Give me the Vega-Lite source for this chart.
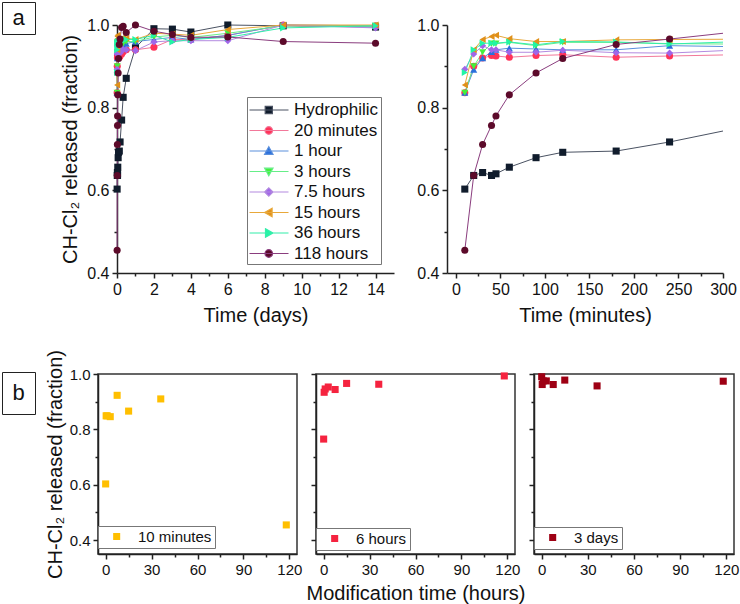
{
 "$schema": "https://vega.github.io/schema/vega-lite/v6.json",
 "background": "white",
 "padding": {"left": 1, "top": 1, "right": 0, "bottom": 0},
 "config": {
  "font": "Liberation Sans",
  "view": {"stroke": null},
  "axis": {"grid": false, "domainColor": "#222", "domainWidth": 1.5, "tickColor": "#222", "tickWidth": 1.5, "labelFont": "Liberation Sans", "labelFontSize": 16, "labelColor": "#111", "labelPadding": 3, "labelOverlap": false, "labelFlush": false, "titleFont": "Liberation Sans", "titleFontSize": 20, "titleFontWeight": "normal", "titleColor": "#111"},
  "legend": {"labelFont": "Liberation Sans", "labelColor": "#111"}
 },
 "datasets": {
  "top": [
   {"s":"Hydrophilic","t":10,"v":0.603},{"s":"Hydrophilic","t":20,"v":0.636},{"s":"Hydrophilic","t":30,"v":0.643},{"s":"Hydrophilic","t":40,"v":0.636},{"s":"Hydrophilic","t":45,"v":0.640},{"s":"Hydrophilic","t":60,"v":0.656},{"s":"Hydrophilic","t":90,"v":0.679},{"s":"Hydrophilic","t":120,"v":0.692},{"s":"Hydrophilic","t":180,"v":0.695},{"s":"Hydrophilic","t":240,"v":0.717},{"s":"Hydrophilic","t":360,"v":0.770},{"s":"Hydrophilic","t":480,"v":0.825},{"s":"Hydrophilic","t":720,"v":0.871},{"s":"Hydrophilic","t":1440,"v":0.945},{"s":"Hydrophilic","t":2880,"v":0.991},{"s":"Hydrophilic","t":4320,"v":0.990},{"s":"Hydrophilic","t":5760,"v":0.983},{"s":"Hydrophilic","t":8640,"v":1.000},{"s":"Hydrophilic","t":12960,"v":0.998},{"s":"Hydrophilic","t":20160,"v":0.995},
   {"s":"20 minutes","t":10,"v":0.836},{"s":"20 minutes","t":20,"v":0.900},{"s":"20 minutes","t":30,"v":0.920},{"s":"20 minutes","t":40,"v":0.926},{"s":"20 minutes","t":45,"v":0.925},{"s":"20 minutes","t":60,"v":0.922},{"s":"20 minutes","t":90,"v":0.926},{"s":"20 minutes","t":120,"v":0.928},{"s":"20 minutes","t":180,"v":0.922},{"s":"20 minutes","t":240,"v":0.925},{"s":"20 minutes","t":360,"v":0.930},{"s":"20 minutes","t":480,"v":0.935},{"s":"20 minutes","t":720,"v":0.940},{"s":"20 minutes","t":1440,"v":0.940},{"s":"20 minutes","t":2880,"v":0.946},{"s":"20 minutes","t":4320,"v":0.965},{"s":"20 minutes","t":5760,"v":0.965},{"s":"20 minutes","t":8640,"v":0.975},{"s":"20 minutes","t":12960,"v":1.000},{"s":"20 minutes","t":20160,"v":0.998},
   {"s":"1 hour","t":10,"v":0.836},{"s":"1 hour","t":20,"v":0.892},{"s":"1 hour","t":30,"v":0.920},{"s":"1 hour","t":40,"v":0.935},{"s":"1 hour","t":45,"v":0.940},{"s":"1 hour","t":60,"v":0.944},{"s":"1 hour","t":90,"v":0.942},{"s":"1 hour","t":120,"v":0.940},{"s":"1 hour","t":180,"v":0.940},{"s":"1 hour","t":240,"v":0.950},{"s":"1 hour","t":360,"v":0.946},{"s":"1 hour","t":480,"v":0.950},{"s":"1 hour","t":720,"v":0.955},{"s":"1 hour","t":1440,"v":0.960},{"s":"1 hour","t":2880,"v":0.965},{"s":"1 hour","t":4320,"v":0.970},{"s":"1 hour","t":5760,"v":0.965},{"s":"1 hour","t":8640,"v":0.975},{"s":"1 hour","t":12960,"v":1.000},{"s":"1 hour","t":20160,"v":0.998},
   {"s":"3 hours","t":10,"v":0.836},{"s":"3 hours","t":20,"v":0.900},{"s":"3 hours","t":30,"v":0.934},{"s":"3 hours","t":40,"v":0.955},{"s":"3 hours","t":45,"v":0.955},{"s":"3 hours","t":60,"v":0.958},{"s":"3 hours","t":90,"v":0.950},{"s":"3 hours","t":120,"v":0.958},{"s":"3 hours","t":180,"v":0.958},{"s":"3 hours","t":240,"v":0.955},{"s":"3 hours","t":360,"v":0.953},{"s":"3 hours","t":480,"v":0.955},{"s":"3 hours","t":720,"v":0.960},{"s":"3 hours","t":1440,"v":0.960},{"s":"3 hours","t":2880,"v":0.971},{"s":"3 hours","t":4320,"v":0.975},{"s":"3 hours","t":5760,"v":0.970},{"s":"3 hours","t":8640,"v":0.980},{"s":"3 hours","t":12960,"v":0.998},{"s":"3 hours","t":20160,"v":0.998},
   {"s":"7.5 hours","t":10,"v":0.893},{"s":"7.5 hours","t":20,"v":0.930},{"s":"7.5 hours","t":30,"v":0.950},{"s":"7.5 hours","t":40,"v":0.940},{"s":"7.5 hours","t":45,"v":0.940},{"s":"7.5 hours","t":60,"v":0.934},{"s":"7.5 hours","t":90,"v":0.934},{"s":"7.5 hours","t":120,"v":0.939},{"s":"7.5 hours","t":180,"v":0.933},{"s":"7.5 hours","t":240,"v":0.932},{"s":"7.5 hours","t":360,"v":0.944},{"s":"7.5 hours","t":480,"v":0.940},{"s":"7.5 hours","t":720,"v":0.940},{"s":"7.5 hours","t":1440,"v":0.938},{"s":"7.5 hours","t":2880,"v":0.959},{"s":"7.5 hours","t":4320,"v":0.962},{"s":"7.5 hours","t":5760,"v":0.962},{"s":"7.5 hours","t":8640,"v":0.962},{"s":"7.5 hours","t":12960,"v":1.000},{"s":"7.5 hours","t":20160,"v":0.993},
   {"s":"15 hours","t":10,"v":0.855},{"s":"15 hours","t":20,"v":0.940},{"s":"15 hours","t":30,"v":0.965},{"s":"15 hours","t":40,"v":0.972},{"s":"15 hours","t":45,"v":0.975},{"s":"15 hours","t":60,"v":0.967},{"s":"15 hours","t":90,"v":0.960},{"s":"15 hours","t":120,"v":0.960},{"s":"15 hours","t":180,"v":0.964},{"s":"15 hours","t":240,"v":0.965},{"s":"15 hours","t":360,"v":0.966},{"s":"15 hours","t":480,"v":0.970},{"s":"15 hours","t":720,"v":0.968},{"s":"15 hours","t":1440,"v":0.965},{"s":"15 hours","t":2880,"v":0.980},{"s":"15 hours","t":4320,"v":0.978},{"s":"15 hours","t":5760,"v":0.975},{"s":"15 hours","t":8640,"v":0.989},{"s":"15 hours","t":12960,"v":1.000},{"s":"15 hours","t":20160,"v":1.000},
   {"s":"36 hours","t":10,"v":0.885},{"s":"36 hours","t":20,"v":0.940},{"s":"36 hours","t":30,"v":0.956},{"s":"36 hours","t":40,"v":0.956},{"s":"36 hours","t":45,"v":0.956},{"s":"36 hours","t":60,"v":0.959},{"s":"36 hours","t":90,"v":0.952},{"s":"36 hours","t":120,"v":0.960},{"s":"36 hours","t":180,"v":0.959},{"s":"36 hours","t":240,"v":0.954},{"s":"36 hours","t":360,"v":0.963},{"s":"36 hours","t":480,"v":0.962},{"s":"36 hours","t":720,"v":0.965},{"s":"36 hours","t":1440,"v":0.965},{"s":"36 hours","t":2880,"v":0.975},{"s":"36 hours","t":4320,"v":0.959},{"s":"36 hours","t":5760,"v":0.965},{"s":"36 hours","t":8640,"v":0.970},{"s":"36 hours","t":12960,"v":0.993},{"s":"36 hours","t":20160,"v":0.998},
   {"s":"118 hours","t":10,"v":0.455},{"s":"118 hours","t":20,"v":0.636},{"s":"118 hours","t":30,"v":0.711},{"s":"118 hours","t":40,"v":0.757},{"s":"118 hours","t":45,"v":0.780},{"s":"118 hours","t":60,"v":0.831},{"s":"118 hours","t":90,"v":0.884},{"s":"118 hours","t":120,"v":0.919},{"s":"118 hours","t":180,"v":0.953},{"s":"118 hours","t":240,"v":0.966},{"s":"118 hours","t":360,"v":0.994},{"s":"118 hours","t":480,"v":0.997},{"s":"118 hours","t":720,"v":0.982},{"s":"118 hours","t":1440,"v":1.000},{"s":"118 hours","t":2880,"v":0.985},{"s":"118 hours","t":4320,"v":0.977},{"s":"118 hours","t":5760,"v":0.970},{"s":"118 hours","t":8640,"v":0.971},{"s":"118 hours","t":12960,"v":0.960},{"s":"118 hours","t":20160,"v":0.956}
  ],
  "bottom": [
   {"panel":"10 minutes","h":0,"v":0.603},{"panel":"10 minutes","h":0.33,"v":0.849},{"panel":"10 minutes","h":1,"v":0.849},{"panel":"10 minutes","h":3,"v":0.846},{"panel":"10 minutes","h":7.5,"v":0.923},{"panel":"10 minutes","h":15,"v":0.866},{"panel":"10 minutes","h":36,"v":0.910},{"panel":"10 minutes","h":118,"v":0.455},
   {"panel":"6 hours","h":0,"v":0.765},{"panel":"6 hours","h":0.33,"v":0.934},{"panel":"6 hours","h":1,"v":0.946},{"panel":"6 hours","h":3,"v":0.953},{"panel":"6 hours","h":7.5,"v":0.944},{"panel":"6 hours","h":15,"v":0.966},{"panel":"6 hours","h":36,"v":0.963},{"panel":"6 hours","h":118,"v":0.993},
   {"panel":"3 days","h":0,"v":0.990},{"panel":"3 days","h":0.33,"v":0.962},{"panel":"3 days","h":1,"v":0.975},{"panel":"3 days","h":3,"v":0.975},{"panel":"3 days","h":7.5,"v":0.962},{"panel":"3 days","h":15,"v":0.978},{"panel":"3 days","h":36,"v":0.957},{"panel":"3 days","h":118,"v":0.974}
  ]
 },
 "vconcat": [
  {
   "hconcat": [
    {"width": 33, "height": 32, "view": {"stroke": "#222", "strokeWidth": 1}, "data": {"values": [{"label": "a"}]}, "mark": {"type": "text", "fontSize": 22, "font": "Liberation Sans", "color": "#111"}, "encoding": {"text": {"field": "label"}}},
    {
     "vconcat": [
      {"width": 10, "height": 1, "data": {"values": []}, "mark": "point"},
      {
       "hconcat": [
        {
         "width": 277, "height": 248,
         "data": {"name": "top"},
         "encoding": {
          "x": {"field": "t", "type": "quantitative", "scale": {"domain": [0, 21600], "nice": false, "zero": false},
                "axis": {"title": "Time (days)", "titlePadding": 8, "values": [0,1440,2880,4320,5760,7200,8640,10080,11520,12960,14400,15840,17280,18720,20160],
                         "labelExpr": "(datum.value/1440) % 2 === 1 ? '' : format(datum.value/1440, 'd')",
                         "tickSize": {"condition": {"test": "(datum.value/1440) % 2 === 1", "value": 3}, "value": 5}}},
          "y": {"field": "v", "type": "quantitative", "scale": {"domain": [0.4, 1.0], "nice": false, "zero": false},
                "axis": {"title": "CH-Cl₂ released (fraction)", "titlePadding": 6, "values": [0.4,0.5,0.6,0.7,0.8,0.9,1.0],
                         "labelExpr": "round(datum.value*10) % 2 === 1 ? '' : format(datum.value, '.1f')",
                         "tickSize": {"condition": {"test": "round(datum.value*10) % 2 === 1", "value": 3}, "value": 5}}}
         },
         "layer": [
          {"mark": {"type": "line", "strokeWidth": 1},
           "encoding": {"stroke": {"field": "s", "type": "nominal", "legend": null,
             "scale": {"domain": ["Hydrophilic","20 minutes","1 hour","3 hours","7.5 hours","15 hours","36 hours","118 hours"],
                       "range": ["#4a5262","#f2789a","#5a8fdc","#66ee88","#b38ae0","#e8a83a","#33eeaa","#8a3d7e"]}}}},
          {"mark": {"type": "point", "filled": true, "size": 50, "opacity": 1, "strokeWidth": 0},
           "encoding": {
            "shape": {"field": "s", "type": "nominal", "legend": null,
              "scale": {"domain": ["Hydrophilic","20 minutes","1 hour","3 hours","7.5 hours","15 hours","36 hours","118 hours"],
                        "range": ["square","circle","triangle-up","triangle-down","diamond","triangle-left","triangle-right","circle"]}},
            "fill": {"field": "s", "type": "nominal", "legend": null,
              "scale": {"domain": ["Hydrophilic","20 minutes","1 hour","3 hours","7.5 hours","15 hours","36 hours","118 hours"],
                        "range": ["#101c2c","#ff3358","#2a6fdc","#44f03a","#a066e8","#e0901a","#22f5a5","#5c0a2a"]}}
           }},
          {"transform": [{"filter": "false"}],
           "mark": {"type": "point", "filled": true, "size": 400, "opacity": 1, "strokeWidth": 1.2},
           "encoding": {
            "shape": {"field": "s", "type": "nominal",
              "scale": {"domain": ["Hydrophilic","20 minutes","1 hour","3 hours","7.5 hours","15 hours","36 hours","118 hours"],
                        "range": ["M-1.05,0H2.85M0.52,-0.36H1.24V0.36H0.52Z","M-1.05,0H2.85M0.5,0A0.38,0.38 0 1,0 1.26,0A0.38,0.38 0 1,0 0.5,0Z","M-1.05,0H2.85M0.88,-0.42L1.3,0.33L0.46,0.33Z","M-1.05,0H2.85M0.88,0.42L1.3,-0.33L0.46,-0.33Z","M-1.05,0H2.85M0.88,-0.42L1.3,0L0.88,0.42L0.46,0Z","M-1.05,0H2.85M0.46,0L1.21,-0.42L1.21,0.42Z","M-1.05,0H2.85M1.3,0L0.55,-0.42L0.55,0.42Z","M-1.05,0H2.85M0.5,0A0.38,0.38 0 1,0 1.26,0A0.38,0.38 0 1,0 0.5,0Z"]},
              "legend": {"orient": "none", "legendX": 130, "legendY": 72, "title": null, "padding": 2, "rowPadding": 1.5,
                "symbolSize": 400, "labelFontSize": 17, "labelOffset": 23, "strokeColor": "#777", "fillColor": "white", "symbolStrokeWidth": 1.2}},
            "fill": {"field": "s", "type": "nominal",
              "scale": {"domain": ["Hydrophilic","20 minutes","1 hour","3 hours","7.5 hours","15 hours","36 hours","118 hours"],
                        "range": ["#101c2c","#ff3358","#2a6fdc","#44f03a","#a066e8","#e0901a","#22f5a5","#5c0a2a"]},
              "legend": {"orient": "none", "legendX": 130, "legendY": 72, "title": null, "padding": 2, "rowPadding": 1.5,
                "symbolSize": 400, "labelFontSize": 17, "labelOffset": 23, "strokeColor": "#777", "fillColor": "white", "symbolStrokeWidth": 1.2}},
            "stroke": {"field": "s", "type": "nominal",
              "scale": {"domain": ["Hydrophilic","20 minutes","1 hour","3 hours","7.5 hours","15 hours","36 hours","118 hours"],
                        "range": ["#4a5262","#f2789a","#5a8fdc","#66ee88","#b38ae0","#e8a83a","#33eeaa","#8a3d7e"]},
              "legend": {"orient": "none", "legendX": 130, "legendY": 72, "title": null, "padding": 2, "rowPadding": 1.5,
                "symbolSize": 400, "labelFontSize": 17, "labelOffset": 23, "strokeColor": "#777", "fillColor": "white", "symbolStrokeWidth": 1.2}}
           }}
         ],
         "resolve": {"scale": {"fill": "independent", "stroke": "independent", "shape": "independent"}}
        },
        {
         "width": 276, "height": 248,
         "data": {"name": "top"},
         "encoding": {
          "x": {"field": "t", "type": "quantitative", "scale": {"domain": [-10, 300], "nice": false, "zero": false},
                "axis": {"title": "Time (minutes)", "titlePadding": 8, "values": [0,25,50,75,100,125,150,175,200,225,250,275,300],
                         "labelExpr": "datum.value % 50 !== 0 ? '' : datum.label",
                         "tickSize": {"condition": {"test": "datum.value % 50 !== 0", "value": 3}, "value": 5}}},
          "y": {"field": "v", "type": "quantitative", "scale": {"domain": [0.4, 1.0], "nice": false, "zero": false},
                "axis": {"title": null, "values": [0.4,0.5,0.6,0.7,0.8,0.9,1.0],
                         "labelExpr": "round(datum.value*10) % 2 === 1 ? '' : format(datum.value, '.1f')",
                         "tickSize": {"condition": {"test": "round(datum.value*10) % 2 === 1", "value": 3}, "value": 5}}}
         },
         "layer": [
          {"mark": {"type": "line", "strokeWidth": 1, "clip": true},
           "encoding": {"stroke": {"field": "s", "type": "nominal", "legend": null,
             "scale": {"domain": ["Hydrophilic","20 minutes","1 hour","3 hours","7.5 hours","15 hours","36 hours","118 hours"],
                       "range": ["#4a5262","#f2789a","#5a8fdc","#66ee88","#b38ae0","#e8a83a","#33eeaa","#8a3d7e"]}}}},
          {"mark": {"type": "point", "filled": true, "size": 50, "opacity": 1, "strokeWidth": 0, "clip": true},
           "encoding": {
            "shape": {"field": "s", "type": "nominal", "legend": null,
              "scale": {"domain": ["Hydrophilic","20 minutes","1 hour","3 hours","7.5 hours","15 hours","36 hours","118 hours"],
                        "range": ["square","circle","triangle-up","triangle-down","diamond","triangle-left","triangle-right","circle"]}},
            "fill": {"field": "s", "type": "nominal", "legend": null,
              "scale": {"domain": ["Hydrophilic","20 minutes","1 hour","3 hours","7.5 hours","15 hours","36 hours","118 hours"],
                        "range": ["#101c2c","#ff3358","#2a6fdc","#44f03a","#a066e8","#e0901a","#22f5a5","#5c0a2a"]}}
           }}
         ]
        }
       ],
       "spacing": 53, "bounds": "flush",
       "resolve": {"scale": {"fill": "independent", "stroke": "independent", "shape": "independent"}}
      }
     ],
     "spacing": 22, "bounds": "flush"
    }
   ],
   "spacing": 82, "bounds": "flush"
  },
  {
   "hconcat": [
    {"width": 33, "height": 42, "view": {"stroke": "#222", "strokeWidth": 1}, "data": {"values": [{"label": "b"}]}, "mark": {"type": "text", "fontSize": 22, "font": "Liberation Sans", "color": "#111"}, "encoding": {"text": {"field": "label"}}},
    {
     "vconcat": [
      {"width": 10, "height": 1, "data": {"values": []}, "mark": "point"},
      {
       "hconcat": [
        {
         "width": 199, "height": 180, "view": {"stroke": "#333", "strokeWidth": 1.5},
         "data": {"name": "bottom"},
         "transform": [{"filter": "datum.panel === '10 minutes'"}],
         "mark": {"type": "point", "filled": true, "shape": "square", "size": 50, "opacity": 1, "strokeWidth": 0},
         "encoding": {
          "x": {"field": "h", "type": "quantitative", "scale": {"domain": [-5, 125], "nice": false, "zero": false},
                "axis": {"title": null, "labelFontSize": 15, "values": [0,15,30,45,60,75,90,105,120],
                         "labelExpr": "datum.value % 30 !== 0 ? '' : datum.label",
                         "tickSize": {"condition": {"test": "datum.value % 30 !== 0", "value": 3}, "value": 5}}},
          "y": {"field": "v", "type": "quantitative", "scale": {"domain": [0.35, 1.0], "nice": false, "zero": false},
                "axis": {"title": "CH-Cl₂ released (fraction)", "titlePadding": 4, "labelFontSize": 15, "values": [0.4,0.5,0.6,0.7,0.8,0.9,1.0],
                         "labelExpr": "round(datum.value*10) % 2 === 1 ? '' : format(datum.value, '.1f')",
                         "tickSize": {"condition": {"test": "round(datum.value*10) % 2 === 1", "value": 3}, "value": 5}}},
          "color": {"field": "panel", "type": "nominal", "scale": {"domain": ["10 minutes"], "range": ["#ffbf00"]},
                    "legend": {"orient": "none", "legendX": 0, "legendY": 152, "title": null, "padding": 3, "symbolType": "M0.62,-0.47H1.56V0.47H0.62Z", "symbolSize": 225, "labelOffset": 22, "labelFontSize": 15, "strokeColor": "#777", "fillColor": "white", "symbolStrokeWidth": 0}}
         }
        },
        {
         "width": 199, "height": 180, "view": {"stroke": "#333", "strokeWidth": 1.5},
         "data": {"name": "bottom"},
         "transform": [{"filter": "datum.panel === '6 hours'"}],
         "mark": {"type": "point", "filled": true, "shape": "square", "size": 50, "opacity": 1, "strokeWidth": 0},
         "encoding": {
          "x": {"field": "h", "type": "quantitative", "scale": {"domain": [-5, 125], "nice": false, "zero": false},
                "axis": {"title": "Modification time (hours)", "titlePadding": 6, "labelFontSize": 15, "values": [0,15,30,45,60,75,90,105,120],
                         "labelExpr": "datum.value % 30 !== 0 ? '' : datum.label",
                         "tickSize": {"condition": {"test": "datum.value % 30 !== 0", "value": 3}, "value": 5}}},
          "y": {"field": "v", "type": "quantitative", "scale": {"domain": [0.35, 1.0], "nice": false, "zero": false},
                "axis": {"title": null, "labels": false, "values": [0.4,0.5,0.6,0.7,0.8,0.9,1.0],
                         "tickSize": {"condition": {"test": "round(datum.value*10) % 2 === 1", "value": 3}, "value": 5}}},
          "color": {"field": "panel", "type": "nominal", "scale": {"domain": ["6 hours"], "range": ["#f5233f"]},
                    "legend": {"orient": "none", "legendX": 0, "legendY": 154, "title": null, "padding": 3, "symbolType": "M0.62,-0.47H1.56V0.47H0.62Z", "symbolSize": 225, "labelOffset": 22, "labelFontSize": 15, "strokeColor": "#777", "fillColor": "white", "symbolStrokeWidth": 0}}
         }
        },
        {
         "width": 200, "height": 180, "view": {"stroke": "#333", "strokeWidth": 1.5},
         "data": {"name": "bottom"},
         "transform": [{"filter": "datum.panel === '3 days'"}],
         "mark": {"type": "point", "filled": true, "shape": "square", "size": 50, "opacity": 1, "strokeWidth": 0},
         "encoding": {
          "x": {"field": "h", "type": "quantitative", "scale": {"domain": [-5, 125], "nice": false, "zero": false},
                "axis": {"title": null, "labelFontSize": 15, "values": [0,15,30,45,60,75,90,105,120],
                         "labelExpr": "datum.value % 30 !== 0 ? '' : datum.label",
                         "tickSize": {"condition": {"test": "datum.value % 30 !== 0", "value": 3}, "value": 5}}},
          "y": {"field": "v", "type": "quantitative", "scale": {"domain": [0.35, 1.0], "nice": false, "zero": false},
                "axis": {"title": null, "labels": false, "values": [0.4,0.5,0.6,0.7,0.8,0.9,1.0],
                         "tickSize": {"condition": {"test": "round(datum.value*10) % 2 === 1", "value": 3}, "value": 5}}},
          "color": {"field": "panel", "type": "nominal", "scale": {"domain": ["3 days"], "range": ["#9e0014"]},
                    "legend": {"orient": "none", "legendX": 0, "legendY": 153, "title": null, "padding": 3, "symbolType": "M0.62,-0.47H1.56V0.47H0.62Z", "symbolSize": 225, "labelOffset": 22, "labelFontSize": 15, "strokeColor": "#777", "fillColor": "white", "symbolStrokeWidth": 0}}
         }
        }
       ],
       "spacing": 19, "bounds": "flush",
       "resolve": {"scale": {"color": "independent"}}
      }
     ],
     "spacing": 1, "bounds": "flush"
    }
   ],
   "spacing": 63, "bounds": "flush"
  }
 ],
 "spacing": 23, "bounds": "full"
}
